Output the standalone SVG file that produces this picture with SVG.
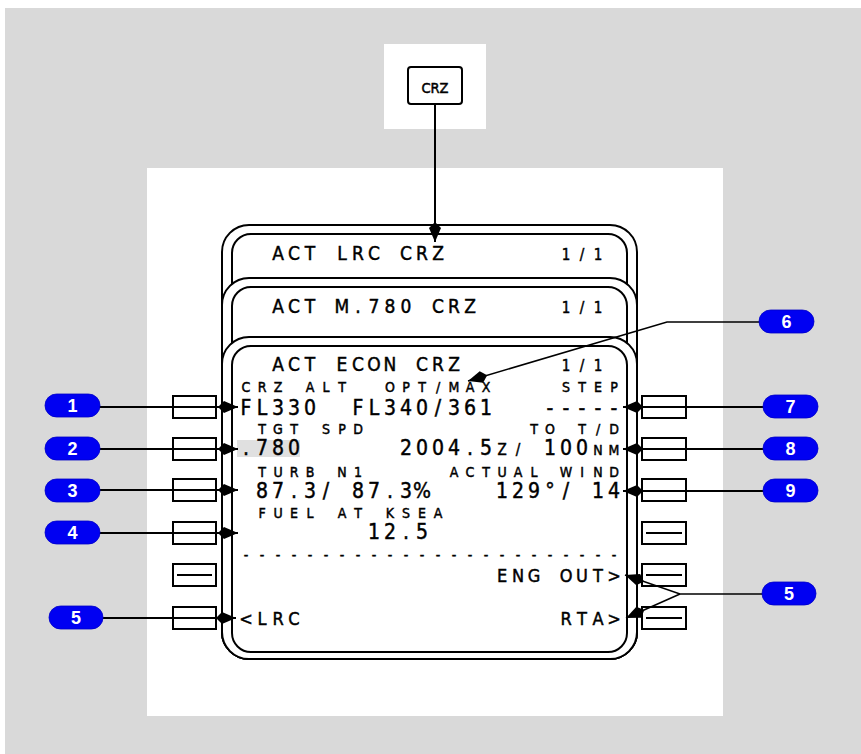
<svg xmlns="http://www.w3.org/2000/svg" width="861" height="754" viewBox="0 0 861 754">
<style>
.scr{fill:#fff;stroke:#000;stroke-width:2}
.key{fill:#fff;stroke:#000;stroke-width:2}
.kl{stroke:#000;stroke-width:2}
.cn{fill:none;stroke:#000;stroke-width:2}
.cnt{fill:none;stroke:#000;stroke-width:1.5}
.bd{fill:#0000f2;stroke:#0000c8;stroke-width:0.8}
.bt{font-family:"Liberation Sans",Arial,sans-serif;font-weight:bold;font-size:18px;fill:#fff;text-anchor:middle}
.t{font-family:"DejaVu Sans Condensed","DejaVu Sans",sans-serif;fill:#000;stroke:#000;stroke-width:0.45;text-anchor:middle}
.ti{font-size:19px}
.pg{font-size:15px}
.s{font-size:14px}
.b{font-size:21px}
.m{font-size:18px}
</style>
<defs>
<marker id="arr" markerUnits="userSpaceOnUse" markerWidth="21" markerHeight="13" refX="20" refY="6.5" orient="auto" viewBox="0 0 21 13">
<path d="M0,6.5 L6,0.5 L20,6.5 L6,12.5 Z" fill="#000"/>
</marker>
</defs>
<rect x="0" y="0" width="861" height="754" fill="#fff"/>
<rect x="5" y="8" width="856" height="746" fill="#d9d9d9"/>
<rect x="384" y="44" width="102" height="85" fill="#fff"/>
<rect x="147" y="168" width="576" height="548" fill="#fff"/>

<g id="crz-key">
<rect x="408" y="67" width="54" height="37" rx="3" class="key"/>
<text class="t" x="435" y="93" font-size="14.5">CRZ</text>
</g>

<g id="screen-lrc">
<rect x="222" y="225" width="415" height="434" rx="27" class="scr"/>
<rect x="232" y="234" width="395" height="418" rx="19" class="scr"/>
<text class="t ti" x="278 294 310 326 342 358 374 390 406 422 438" y="260">ACT LRC CRZ</text>
<text class="t pg" x="566 582 598" y="260">1/1</text>
</g>

<g id="screen-m780">
<rect x="222" y="278" width="415" height="381" rx="27" class="scr"/>
<rect x="232" y="287" width="395" height="365" rx="19" class="scr"/>
<text class="t ti" x="278 294 310 326 342 358 374 390 406 422 438 454 470" y="313">ACT M.780 CRZ</text>
<text class="t pg" x="566 582 598" y="313">1/1</text>
</g>

<g id="screen-econ">
<rect x="222" y="337" width="415" height="322" rx="27" class="scr"/>
<rect x="232" y="346" width="395" height="306" rx="19" class="scr"/>
<rect x="237" y="440" width="63" height="17" fill="#e0e0e0"/>
<text class="t ti" x="278 294 310 326 342 358 374 390 406 422 438 454" y="371">ACT ECON CRZ</text>
<text class="t pg" x="566 582 598" y="371">1/1</text>
<text class="t s" x="246 262 278 294 310 326 342" y="392">CRZ ALT</text>
<text class="t s" x="390 406 422 438 454 470 486" y="392">OPT/MAX</text>
<text class="t s" x="566 582 598 614" y="392">STEP</text>
<text class="t b" x="246 262 278 294 310" y="415">FL330</text>
<text class="t b" x="358 374 390 406 422 438 454 470 486" y="415">FL340/361</text>
<text class="t b" x="550 566 582 598 614" y="415">-----</text>
<text class="t s" x="262 278 294 310 326 342 358" y="434">TGT SPD</text>
<text class="t s" x="534 550 566 582 598 614" y="434">TO T/D</text>
<text class="t b" x="246 262 278 294" y="455">.780</text>
<text class="t b" x="406 422 438 454 470 486" y="455">2004.5</text>
<text class="t pg" x="502 518" y="455">Z/</text>
<text class="t b" x="550 566 582" y="455">100</text>
<text class="t s" x="598 614" y="455">NM</text>
<text class="t s" x="262 278 294 310 326 342 358" y="477">TURB N1</text>
<text class="t s" x="454 470 486 502 518 534 550 566 582 598 614" y="477">ACTUAL WIND</text>
<text class="t b" x="262 278 294 310 326" y="498">87.3/</text>
<text class="t b" x="358 374 390 406 422" y="498">87.3%</text>
<text class="t b" x="502 518 534 550 566" y="498">129°/</text>
<text class="t b" x="598 614" y="498">14</text>
<text class="t s" x="262 278 294 310 326 342 358 374 390 406 422 438" y="518">FUEL AT KSEA</text>
<text class="t b" x="374 390 406 422" y="539">12.5</text>
<text class="t s" x="246 262 278 294 310 326 342 358 374 390 406 422 438 454 470 486 502 518 534 550 566 582 598 614" y="560">------------------------</text>
<text class="t m" x="502 518 534 550 566 582 598 614" y="582">ENG OUT&gt;</text>
<text class="t m" x="246 262 278 294" y="625">&lt;LRC</text>
<text class="t m" x="566 582 598 614" y="625">RTA&gt;</text>
</g>

<g id="lsk-left">
<rect x="173" y="396" width="43" height="22" class="key"/>
<rect x="173" y="438" width="43" height="22" class="key"/>
<rect x="173" y="479" width="43" height="22" class="key"/>
<rect x="173" y="522" width="43" height="22" class="key"/>
<rect x="173" y="564" width="43" height="22" class="key"/>
<line x1="177" y1="575" x2="212" y2="575" class="kl"/>
<rect x="173" y="607" width="43" height="22" class="key"/>
</g>
<g id="lsk-right">
<rect x="642" y="396" width="44" height="22" class="key"/>
<rect x="642" y="438" width="44" height="22" class="key"/>
<rect x="642" y="479" width="44" height="22" class="key"/>
<rect x="642" y="522" width="44" height="22" class="key"/>
<line x1="646" y1="533" x2="682" y2="533" class="kl"/>
<rect x="642" y="564" width="44" height="22" class="key"/>
<line x1="646" y1="575" x2="682" y2="575" class="kl"/>
<rect x="642" y="607" width="44" height="22" class="key"/>
<line x1="646" y1="618" x2="682" y2="618" class="kl"/>
</g>

<g id="connectors">
<path class="cn" d="M435,104 V242" marker-end="url(#arr)"/>
<path class="cn" d="M98,407 H238" marker-end="url(#arr)"/>
<path class="cn" d="M98,449 H238" marker-end="url(#arr)"/>
<path class="cn" d="M98,490 H238" marker-end="url(#arr)"/>
<path class="cn" d="M98,533 H238" marker-end="url(#arr)"/>
<path class="cn" d="M101,618 H236" marker-end="url(#arr)"/>
<path class="cn" d="M765,407 H623" marker-end="url(#arr)"/>
<path class="cn" d="M765,449 H623" marker-end="url(#arr)"/>
<path class="cn" d="M765,491 H623" marker-end="url(#arr)"/>
<path class="cnt" d="M761,322 H667 L468,381" marker-end="url(#arr)"/>
<path class="cnt" d="M764,594 H680 L625,575" marker-end="url(#arr)"/>
<path class="cnt" d="M680,594 L626,618" marker-end="url(#arr)"/>
</g>

<g id="badge-1"><rect x="45" y="394" width="55" height="23" rx="11.5" class="bd"/><text class="bt" x="72.5" y="412">1</text></g>
<g id="badge-2"><rect x="45" y="437" width="55" height="23" rx="11.5" class="bd"/><text class="bt" x="72.5" y="455">2</text></g>
<g id="badge-3"><rect x="45" y="479" width="55" height="23" rx="11.5" class="bd"/><text class="bt" x="72.5" y="497">3</text></g>
<g id="badge-4"><rect x="45" y="521" width="55" height="23" rx="11.5" class="bd"/><text class="bt" x="72.5" y="539">4</text></g>
<g id="badge-5-left"><rect x="49" y="606" width="54" height="23" rx="11.5" class="bd"/><text class="bt" x="76" y="624">5</text></g>
<g id="badge-6"><rect x="759" y="310" width="55" height="23" rx="11.5" class="bd"/><text class="bt" x="786.5" y="328">6</text></g>
<g id="badge-7"><rect x="763" y="395" width="55" height="23" rx="11.5" class="bd"/><text class="bt" x="790.5" y="413">7</text></g>
<g id="badge-8"><rect x="763" y="437" width="55" height="23" rx="11.5" class="bd"/><text class="bt" x="790.5" y="455">8</text></g>
<g id="badge-9"><rect x="763" y="479" width="55" height="23" rx="11.5" class="bd"/><text class="bt" x="790.5" y="497">9</text></g>
<g id="badge-5-right"><rect x="762" y="582" width="54" height="23" rx="11.5" class="bd"/><text class="bt" x="789" y="600">5</text></g>
</svg>
